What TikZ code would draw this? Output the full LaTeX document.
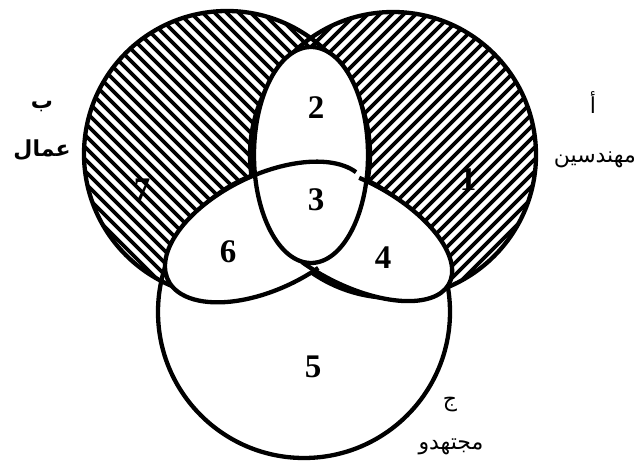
\documentclass[tikz,border=0pt]{standalone}
\usepackage{fontspec}
\setmainfont{Liberation Serif}
\newfontfamily\arabicfont[Script=Arabic]{DejaVu Sans}
\TeXXeTstate=1
\tikzset{
  outline/.style={line width=4.3pt, black},
  hatchline/.style={line width=3.6pt, black},
  num/.style={font=\bfseries\fontsize{33}{33}\selectfont, inner sep=0pt},
  lab/.style={font=\arabicfont\fontsize{22}{26}\selectfont, inner sep=0pt},
  boldlab/.style={font=\arabicfont\bfseries\fontsize{22}{26}\selectfont, inner sep=0pt},
}
\begin{document}
\begin{tikzpicture}[x=1pt,y=1pt]
\useasboundingbox (0,0) rectangle (635,466);
\coordinate (cB) at (227,312);
\coordinate (cA) at (393,311);
\coordinate (cC) at (304,154);
\coordinate (cE) at (311,311);

% hatching of the two upper circles
\begin{scope}
  \clip (cB) circle[radius=143];
  \foreach \c in {200,212,...,900} \draw[hatchline] (\c-600,600) -- (\c,0);
\end{scope}
\begin{scope}
  \clip (cA) circle[radius=143];
  \foreach \k in {-300,-288,...,450} \draw[hatchline] (\k,0) -- (\k+600,600);
\end{scope}

% circle outlines
\draw[outline] (cB) circle[radius=143];
\draw[outline] (cA) circle[radius=143];
\draw[outline] (cC) circle[radius=146];

% white regions
\fill[white, shift={(267,234)}, rotate=26] (0,0) ellipse[x radius=110, y radius=57];
\fill[white, shift={(352,234)}, rotate=-28] (0,0) ellipse[x radius=110, y radius=52];
\fill[white] (cE) ellipse[x radius=57, y radius=108];

% lobe outlines
\begin{scope}[shift={(267,234)}, rotate=26]
  \draw[outline] (15:110 and 57) arc[start angle=15, end angle=286, x radius=110, y radius=57];
\end{scope}
\begin{scope}[shift={(352,234)}, rotate=-28]
  \draw[outline] (100:110 and 52) arc[start angle=100, end angle=-106, x radius=110, y radius=52];
\end{scope}
\draw[outline] (cE) ellipse[x radius=57, y radius=108];

% region numbers
\node[num] (n1) at (468,286) {1};
\node[num] (n2) at (316,358) {2};
\node[num] (n3) at (316,266) {3};
\node[num] (n4) at (383,208) {4};
\node[num] (n5) at (313,99) {5};
\node[num] (n6) at (228,214) {6};
\node[num] (n7) at (142,276) {7};

% set labels
\node[boldlab] (bLetter) at (42,359) {\beginR ب\endR};
\node[boldlab] (bName) at (42,316) {\beginR عمال\endR};
\node[lab] (aLetter) at (593,363) {\beginR أ\endR};
\node[lab, anchor=east] (aName) at (636,306) {\beginR مهندسين\endR};
\node[lab] (cLetter) at (450,61) {\beginR ج\endR};
\node[lab] (cName) at (451,19) {\beginR مجتهدو\endR};
\end{tikzpicture}
\end{document}
